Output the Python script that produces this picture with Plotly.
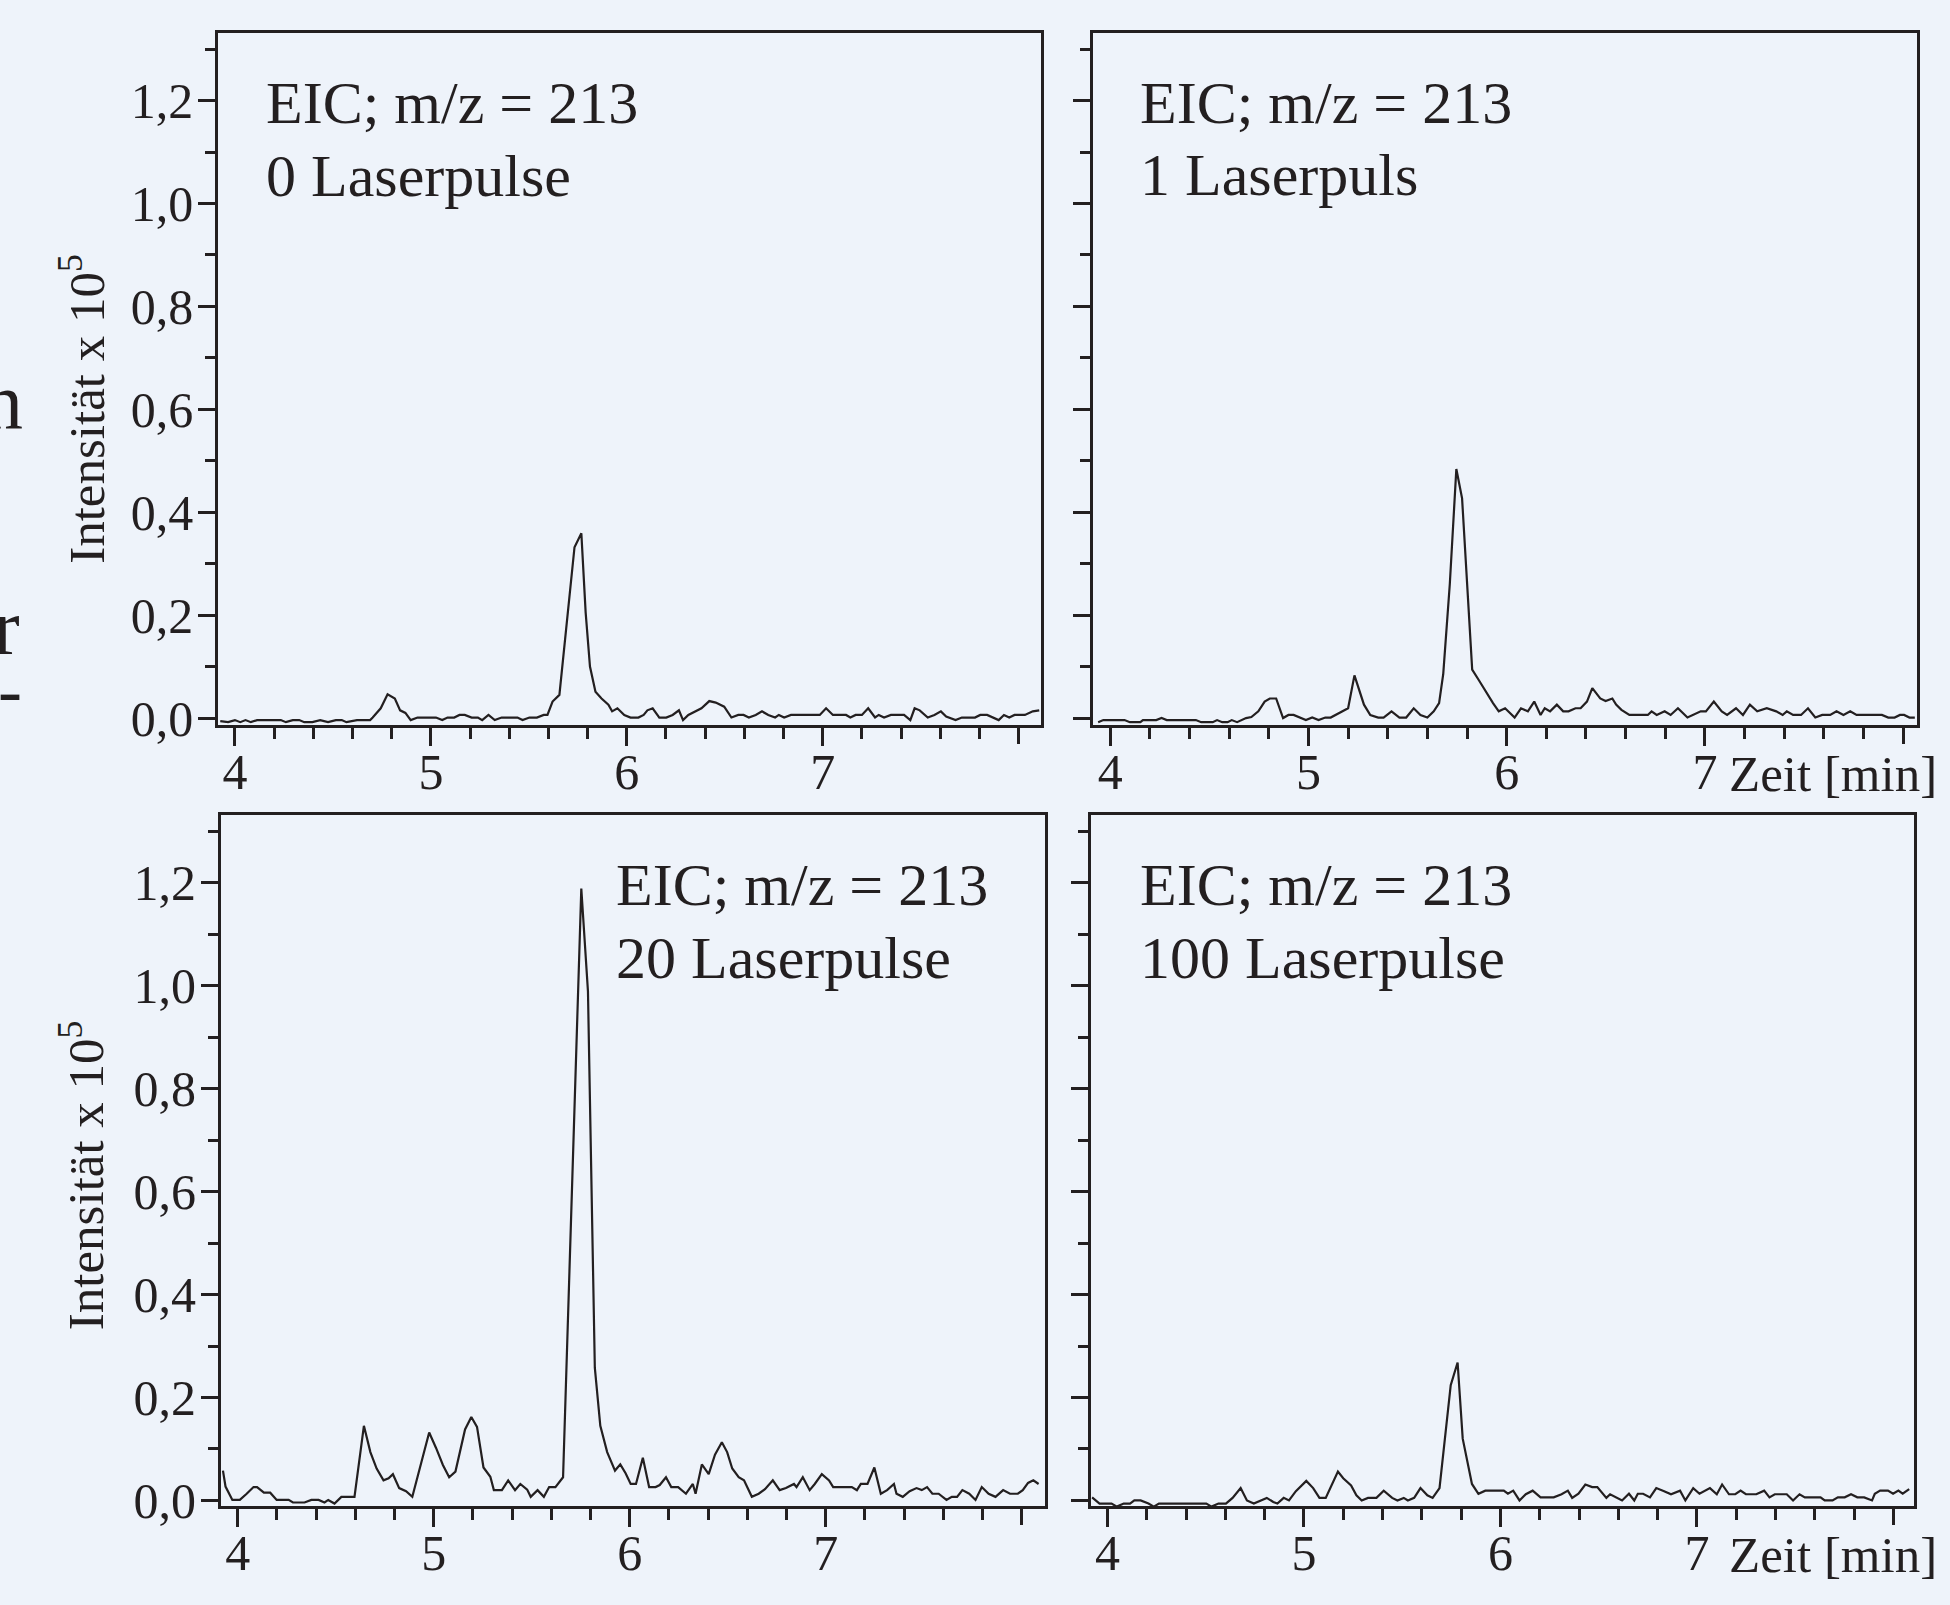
import plotly.graph_objects as go

# ---------------- data ----------------
panel_labels = ["0 Laserpulse", "1 Laserpuls", "20 Laserpulse", "100 Laserpulse"]
eic_label = "EIC; m/z = 213"
y_title = "Intensität x 10<sup>5</sup>"
x_unit = "Zeit [min]"
x_tick_vals = [4, 5, 6, 7]
x_tick_text = ["4", "5", "6", "7"]
x_unlabelled_major = [8]
y_tick_vals = [0.0, 0.2, 0.4, 0.6, 0.8, 1.0, 1.2]

t_p0 = [3.925, 3.965, 4.000, 4.027, 4.054, 4.081, 4.113, 4.234, 4.260, 4.295, 4.328, 4.354, 4.395,
        4.435, 4.475, 4.515, 4.545, 4.569, 4.623, 4.690, 4.703, 4.744, 4.779, 4.816, 4.843, 4.870,
        4.897, 4.932, 5.026, 5.058, 5.085, 5.119, 5.146, 5.173, 5.208, 5.240, 5.262, 5.294, 5.326,
        5.361, 5.442, 5.468, 5.503, 5.541, 5.576, 5.595, 5.621, 5.656, 5.733, 5.768, 5.790, 5.812,
        5.840, 5.871, 5.906, 5.925, 5.952, 5.987, 6.019, 6.059, 6.086, 6.105, 6.132, 6.166, 6.201,
        6.234, 6.266, 6.287, 6.314, 6.346, 6.381, 6.421, 6.454, 6.497, 6.534, 6.569, 6.596, 6.623,
        6.658, 6.690, 6.722, 6.757, 6.776, 6.803, 6.838, 6.985, 7.017, 7.052, 7.119, 7.141, 7.168,
        7.200, 7.232, 7.267, 7.286, 7.313, 7.348, 7.415, 7.447, 7.469, 7.495, 7.536, 7.570, 7.603,
        7.630, 7.678, 7.710, 7.777, 7.804, 7.839, 7.898, 7.925, 7.952, 7.979, 8.032, 8.072, 8.105]
i_p0 = [-0.006, -0.008, -0.004, -0.008, -0.004, -0.008, -0.004, -0.004, -0.008, -0.004, -0.004, -0.008, -0.008,
        -0.004, -0.008, -0.004, -0.004, -0.008, -0.004, -0.004, 0.001, 0.019, 0.046, 0.038, 0.015, 0.010,
        -0.004, 0.001, 0.001, -0.004, 0.001, 0.001, 0.006, 0.006, 0.001, 0.001, -0.004, 0.006, -0.004,
        0.001, 0.001, -0.004, 0.001, 0.001, 0.006, 0.006, 0.032, 0.045, 0.332, 0.359, 0.205, 0.100,
        0.051, 0.038, 0.026, 0.013, 0.019, 0.006, 0.001, 0.001, 0.006, 0.015, 0.019, 0.001, 0.001,
        0.006, 0.015, -0.004, 0.006, 0.013, 0.019, 0.033, 0.030, 0.022, 0.001, 0.006, 0.006, 0.001,
        0.006, 0.013, 0.006, 0.001, 0.006, 0.001, 0.006, 0.006, 0.019, 0.006, 0.006, 0.001, 0.006,
        0.006, 0.019, 0.001, 0.006, 0.001, 0.006, 0.006, -0.004, 0.019, 0.015, 0.001, 0.006, 0.013,
        0.003, -0.004, 0.001, 0.001, 0.006, 0.006, -0.004, 0.006, 0.001, 0.006, 0.006, 0.013, 0.015]

t_p1 = [3.939, 3.965, 4.072, 4.099, 4.152, 4.165, 4.232, 4.259, 4.285, 4.432, 4.459, 4.517, 4.539,
        4.565, 4.592, 4.613, 4.640, 4.685, 4.712, 4.747, 4.779, 4.805, 4.837, 4.872, 4.899, 4.925,
        4.987, 5.019, 5.051, 5.085, 5.112, 5.200, 5.232, 5.280, 5.312, 5.352, 5.379, 5.419, 5.459,
        5.493, 5.531, 5.565, 5.600, 5.632, 5.659, 5.680, 5.713, 5.746, 5.775, 5.826, 5.859, 5.899,
        5.931, 5.960, 5.992, 6.040, 6.072, 6.107, 6.139, 6.171, 6.192, 6.219, 6.253, 6.285, 6.312,
        6.347, 6.373, 6.405, 6.432, 6.472, 6.499, 6.533, 6.552, 6.579, 6.619, 6.712, 6.731, 6.757,
        6.797, 6.827, 6.864, 6.912, 6.944, 6.979, 7.005, 7.045, 7.085, 7.112, 7.157, 7.192, 7.227,
        7.264, 7.312, 7.360, 7.392, 7.413, 7.445, 7.485, 7.520, 7.557, 7.592, 7.632, 7.664, 7.699,
        7.733, 7.765, 7.893, 7.925, 7.957, 7.984, 8.005, 8.032, 8.059]
i_p1 = [-0.008, -0.004, -0.004, -0.008, -0.008, -0.004, -0.004, 0.000, -0.004, -0.004, -0.008, -0.008, -0.004,
        -0.008, -0.008, -0.004, -0.008, 0.000, 0.002, 0.013, 0.032, 0.038, 0.038, 0.000, 0.006, 0.006,
        -0.004, 0.001, -0.004, 0.001, 0.001, 0.019, 0.083, 0.026, 0.006, 0.001, 0.001, 0.013, 0.001,
        0.001, 0.019, 0.006, 0.001, 0.013, 0.029, 0.086, 0.260, 0.484, 0.427, 0.094, 0.074, 0.048,
        0.029, 0.013, 0.019, 0.001, 0.019, 0.013, 0.032, 0.006, 0.019, 0.013, 0.026, 0.013, 0.013,
        0.019, 0.019, 0.032, 0.058, 0.038, 0.033, 0.038, 0.026, 0.016, 0.006, 0.006, 0.013, 0.006,
        0.013, 0.006, 0.019, 0.001, 0.006, 0.013, 0.013, 0.032, 0.013, 0.006, 0.019, 0.006, 0.026,
        0.013, 0.019, 0.013, 0.006, 0.013, 0.006, 0.006, 0.019, 0.001, 0.006, 0.006, 0.013, 0.006,
        0.013, 0.006, 0.006, 0.001, 0.001, 0.006, 0.006, 0.001, 0.001]

t_p20 = [3.925, 3.938, 3.973, 4.011, 4.046, 4.081, 4.099, 4.134, 4.166, 4.199, 4.260, 4.282, 4.341,
         4.376, 4.413, 4.443, 4.462, 4.494, 4.529, 4.596, 4.644, 4.677, 4.709, 4.744, 4.770, 4.792,
         4.824, 4.859, 4.891, 4.932, 4.977, 5.012, 5.047, 5.079, 5.111, 5.160, 5.192, 5.221, 5.254,
         5.289, 5.307, 5.348, 5.380, 5.415, 5.442, 5.477, 5.495, 5.530, 5.562, 5.589, 5.621, 5.660,
         5.753, 5.787, 5.822, 5.850, 5.885, 5.925, 5.952, 5.979, 6.005, 6.032, 6.067, 6.099, 6.132,
         6.153, 6.185, 6.212, 6.247, 6.287, 6.322, 6.336, 6.368, 6.403, 6.435, 6.470, 6.497, 6.523,
         6.556, 6.583, 6.623, 6.658, 6.690, 6.730, 6.765, 6.797, 6.838, 6.851, 6.883, 6.918, 6.944,
         6.980, 7.017, 7.038, 7.133, 7.159, 7.179, 7.213, 7.248, 7.281, 7.313, 7.348, 7.361, 7.393,
         7.428, 7.463, 7.490, 7.517, 7.544, 7.576, 7.616, 7.643, 7.670, 7.697, 7.732, 7.764, 7.796,
         7.831, 7.866, 7.905, 7.940, 7.980, 8.005, 8.032, 8.059, 8.086]
i_p20 = [0.058, 0.027, 0.001, 0.001, 0.013, 0.026, 0.026, 0.015, 0.015, 0.001, 0.001, -0.004, -0.004,
         0.001, 0.001, -0.004, 0.001, -0.006, 0.007, 0.007, 0.145, 0.094, 0.062, 0.039, 0.043, 0.051,
         0.024, 0.018, 0.007, 0.069, 0.132, 0.102, 0.069, 0.045, 0.056, 0.138, 0.162, 0.143, 0.064,
         0.046, 0.020, 0.020, 0.039, 0.020, 0.032, 0.021, 0.007, 0.020, 0.007, 0.026, 0.026, 0.045,
         1.189, 0.989, 0.258, 0.145, 0.094, 0.058, 0.070, 0.053, 0.032, 0.032, 0.083, 0.026, 0.026,
         0.030, 0.045, 0.026, 0.026, 0.013, 0.032, 0.013, 0.070, 0.051, 0.089, 0.113, 0.094, 0.062,
         0.045, 0.039, 0.007, 0.013, 0.022, 0.039, 0.020, 0.024, 0.032, 0.026, 0.045, 0.020, 0.032,
         0.051, 0.039, 0.026, 0.026, 0.020, 0.032, 0.032, 0.064, 0.013, 0.020, 0.032, 0.013, 0.007,
         0.018, 0.024, 0.020, 0.026, 0.013, 0.013, 0.001, 0.007, 0.007, 0.020, 0.013, 0.001, 0.026,
         0.013, 0.007, 0.020, 0.013, 0.013, 0.020, 0.034, 0.039, 0.032]

t_p100 = [3.922, 3.960, 4.021, 4.048, 4.083, 4.115, 4.137, 4.169, 4.209, 4.236, 4.262, 4.503, 4.530,
          4.565, 4.603, 4.637, 4.678, 4.710, 4.745, 4.779, 4.811, 4.844, 4.865, 4.897, 4.924, 4.959,
          5.012, 5.047, 5.079, 5.111, 5.173, 5.200, 5.240, 5.267, 5.294, 5.326, 5.369, 5.406, 5.449,
          5.476, 5.508, 5.529, 5.561, 5.593, 5.628, 5.655, 5.690, 5.747, 5.782, 5.808, 5.855, 5.888,
          5.923, 6.017, 6.038, 6.065, 6.097, 6.129, 6.164, 6.204, 6.271, 6.311, 6.343, 6.365, 6.397,
          6.432, 6.467, 6.493, 6.539, 6.558, 6.592, 6.619, 6.654, 6.681, 6.699, 6.726, 6.761, 6.793,
          6.833, 6.868, 6.914, 6.941, 6.981, 7.013, 7.066, 7.101, 7.128, 7.163, 7.195, 7.222, 7.249,
          7.302, 7.342, 7.369, 7.396, 7.457, 7.489, 7.522, 7.549, 7.629, 7.650, 7.690, 7.717, 7.752,
          7.784, 7.816, 7.851, 7.891, 7.905, 7.932, 7.972, 7.998, 8.025, 8.047, 8.080]
i_p100 = [0.006, -0.006, -0.006, -0.012, -0.006, -0.006, 0.000, 0.000, -0.006, -0.012, -0.006, -0.006, -0.012,
          -0.006, -0.006, 0.005, 0.024, 0.000, -0.006, 0.000, 0.005, -0.003, -0.006, 0.005, 0.000, 0.018,
          0.038, 0.024, 0.005, 0.005, 0.056, 0.043, 0.029, 0.010, 0.000, 0.005, 0.005, 0.019, 0.005,
          0.000, 0.005, 0.000, 0.005, 0.024, 0.010, 0.005, 0.024, 0.224, 0.268, 0.120, 0.032, 0.013,
          0.019, 0.019, 0.013, 0.019, 0.000, 0.012, 0.019, 0.006, 0.006, 0.012, 0.019, 0.005, 0.013,
          0.031, 0.026, 0.026, 0.005, 0.012, 0.005, 0.000, 0.013, 0.000, 0.013, 0.013, 0.006, 0.024,
          0.018, 0.012, 0.019, 0.000, 0.024, 0.013, 0.024, 0.012, 0.031, 0.012, 0.012, 0.019, 0.012,
          0.012, 0.019, 0.006, 0.012, 0.012, 0.000, 0.012, 0.006, 0.006, 0.000, 0.000, 0.006, 0.006,
          0.012, 0.006, 0.006, 0.000, 0.013, 0.019, 0.019, 0.013, 0.019, 0.013, 0.022]

series_t = [t_p0, t_p1, t_p20, t_p100]
series_i = [i_p0, i_p1, i_p20, i_p100]

# ---------------- styling / layout ----------------
W, H = 1950, 1605
INK = "#231f20"
BG = "#eef3fa"
FONT = "Liberation Serif"


def px(x):
    return x / W


def py(y):
    return 1 - y / H


# panel boxes in pixels: (left, right, top, bottom)
boxes = [(218.3, 1041.0, 33.7, 734.7), (1093.0, 1916.8, 33.7, 734.7),
         (221.0, 1044.7, 826.7, 1527.4), (1091.3, 1914.3, 826.7, 1527.4)]
x_ranges = [[3.915, 8.114], [3.913, 8.069], [3.915, 8.117], [3.918, 8.106]]
y_ranges = [[-0.0128, 1.331], [-0.0128, 1.331], [-0.0117, 1.331], [-0.0117, 1.331]]

x_minor = [4.2, 4.4, 4.6, 4.8, 5.2, 5.4, 5.6, 5.8, 6.2, 6.4, 6.6, 6.8, 7.2, 7.4, 7.6, 7.8]
y_minor = [0.1, 0.3, 0.5, 0.7, 0.9, 1.1, 1.3]

fig = go.Figure()
layout = dict(width=W, height=H, autosize=False, margin=dict(l=0, r=0, t=0, b=0),
              paper_bgcolor=BG, plot_bgcolor=BG, showlegend=False, separators=",.",
              font=dict(family=FONT, color=INK))

annotations = []
for k in range(4):
    sfx = "" if k == 0 else str(k + 1)
    osfx = str(k + 5)
    L, R, T, B = boxes[k]
    fig.add_trace(go.Scatter(x=series_t[k], y=series_i[k], mode="lines",
                             line=dict(color=INK, width=2.2), xaxis="x" + sfx, yaxis="y" + sfx,
                             hoverinfo="skip"))
    # empty helper trace so the overlay axis (unlabelled major tick at 8) is drawn
    fig.add_trace(go.Scatter(x=[], y=[], mode="lines", xaxis="x" + osfx, yaxis="y" + sfx,
                             hoverinfo="skip"))
    layout["xaxis" + sfx] = dict(
        domain=[px(L), px(R)], range=x_ranges[k], anchor="y" + sfx,
        tickvals=x_tick_vals, ticktext=x_tick_text, ticks="outside", ticklen=18, tickwidth=2.5,
        tickcolor=INK, showline=True, mirror=True, linewidth=3, linecolor=INK,
        showgrid=False, zeroline=False, tickfont=dict(family=FONT, size=50, color=INK),
        ticklabelstandoff=-17,
        minor=dict(tickvals=x_minor, ticks="outside", ticklen=11, tickwidth=2.5, tickcolor=INK,
                   showgrid=False))
    layout["xaxis" + osfx] = dict(
        overlaying="x" + sfx, anchor="y" + sfx, side="bottom", range=x_ranges[k],
        tickvals=x_unlabelled_major, ticks="outside", ticklen=18, tickwidth=2.5, tickcolor=INK,
        showticklabels=False, showline=False, showgrid=False, zeroline=False)
    layout["yaxis" + sfx] = dict(
        domain=[py(B), py(T)], range=y_ranges[k], anchor="x" + sfx,
        tickvals=y_tick_vals, tickformat=".1f", ticks="outside", ticklen=17, tickwidth=2.5,
        tickcolor=INK, showline=True, mirror=True, linewidth=3, linecolor=INK,
        showgrid=False, zeroline=False, showticklabels=(k % 2 == 0),
        tickfont=dict(family=FONT, size=50, color=INK), ticklabelstandoff=-5,
        minor=dict(tickvals=y_minor, ticks="outside", ticklen=10, tickwidth=2.5, tickcolor=INK,
                   showgrid=False))


def text(x, y, s, size, xanchor="left", angle=0):
    annotations.append(dict(x=px(x), y=py(y), xref="paper", yref="paper", text=s,
                            showarrow=False, xanchor=xanchor, yanchor="middle", textangle=angle,
                            font=dict(family=FONT, size=size, color=INK)))


# panel labels (x-left, baseline of first line)
label_pos = [(264, 125.0), (1138, 124.6), (614, 917.6), (1138, 917.6)]
for k in range(4):
    x0, b0 = label_pos[k]
    text(x0, b0 - 0.3375 * 60, eic_label, 60)
    text(x0, b0 + 73.5 - 0.3375 * 60, panel_labels[k], 60)

# y-axis titles
text(82, 414.5, y_title, 51, xanchor="center", angle=-90)
text(82, 1191.5, y_title, 51, xanchor="center", angle=-90)

# x unit label next to tick "7" on the right panels
text(1727, 801.7 - 0.3375 * 51, x_unit, 51)
text(1727, 1594.3 - 0.3375 * 51, x_unit, 51)

# cut-off letters of the neighbouring page text at the left edge
text(25, 434 - 0.3375 * 80, "n", 80, xanchor="right")
text(22, 663 - 0.3375 * 80, "r", 80, xanchor="right")
text(24, 724 - 0.3375 * 72, "-", 72, xanchor="right")

layout["annotations"] = annotations
fig.update_layout(**layout)

page_js = (
    "var d=document.documentElement, b=document.body;"
    "d.style.margin='0px'; b.style.margin='0px'; b.style.padding='0px';"
    "d.style.overflow='hidden'; b.style.overflow='hidden';"
    "d.style.background='" + BG + "'; b.style.background='" + BG + "';"
)
fig.write_html("out.html", config={"displayModeBar": False}, post_script=page_js)
